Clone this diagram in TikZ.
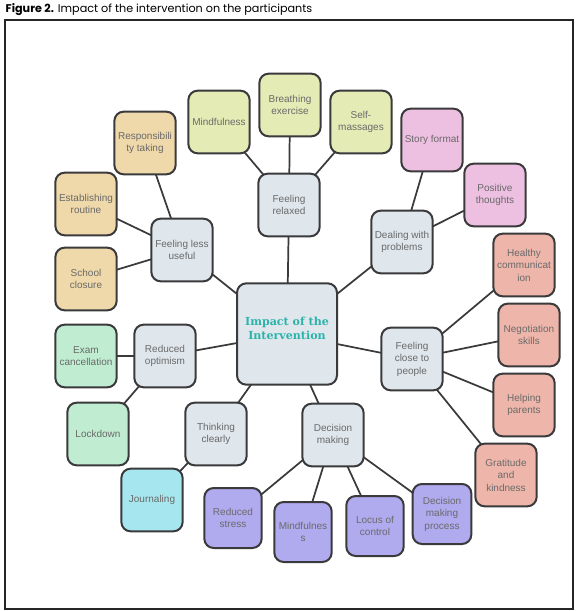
\documentclass[tikz,border=0pt]{standalone}
\usepackage{fontspec}
\setmainfont{Liberation Sans}
\newfontfamily\titlefont{Poppins}
\newfontfamily\hubfont{DejaVu Serif}
\definecolor{edgedark}{HTML}{3A3A3C}
\definecolor{labelgray}{HTML}{6A6A6A}
\definecolor{hubteal}{HTML}{2BB3AA}
\definecolor{hubfill}{HTML}{DFE6EC}
\definecolor{relaxfill}{HTML}{E4EBB5}
\definecolor{usefulfill}{HTML}{EFD8A9}
\definecolor{dealfill}{HTML}{EDBFE1}
\definecolor{closefill}{HTML}{EEB6AA}
\definecolor{optimfill}{HTML}{C0ECD1}
\definecolor{journalfill}{HTML}{A6E6EE}
\definecolor{decidefill}{HTML}{B0AAEE}
\pgfdeclarelayer{background}
\pgfsetlayers{background,main}

\begin{document}
\begin{tikzpicture}[
  x=0.75pt,y=-0.75pt,
  every node/.style={font=\fontsize{7.5}{9.4}\selectfont,text=labelgray},
  topic/.style={draw=edgedark,line width=1.5pt,rounded corners=7pt,
    minimum width=46pt,minimum height=47pt,inner sep=1pt,align=center},
  link/.style={draw=edgedark,line width=1.3pt}
]

% ---- canvas ----
\useasboundingbox (0,0) rectangle (578,611);

% ---- caption and frame ----
\node[anchor=west,font=\titlefont\fontsize{8.4}{10}\selectfont,text=black] (title) at (1,10)
  {\textbf{Figure 2.} Impact of the intervention on the participants};
\draw[black!85,line width=1pt] (5,20) rectangle (573,609);

% ---- hub ----
\node[topic,fill=hubfill,minimum width=75pt,minimum height=76pt] (hub) at (287,334) {};
\node[font=\hubfont\bfseries\fontsize{8.3}{10.5}\selectfont,text=hubteal,align=center]
  (hubtext) at (287,328) {Impact of the\\Intervention};

% ---- first ring ----
\node[topic,fill=hubfill] (relaxed) at (289,205) {Feeling\\relaxed};
\node[topic,fill=hubfill] (useless) at (182,250) {Feeling less\\useful};
\node[topic,fill=hubfill] (dealing) at (402,242) {Dealing with\\problems};
\node[topic,fill=hubfill] (close) at (412,359) {Feeling\\close to\\people};
\node[topic,fill=hubfill] (optimism) at (165,356) {Reduced\\optimism};
\node[topic,fill=hubfill] (thinking) at (216,434) {Thinking\\clearly};
\node[topic,fill=hubfill] (decision) at (333,435) {Decision\\making};

% ---- feeling relaxed ----
\node[topic,fill=relaxfill] (mindtop) at (219,122) {Mindfulness};
\node[topic,fill=relaxfill] (breath) at (290,105) {Breathing\\exercise};
\node[topic,fill=relaxfill] (massage) at (361,122) {Self-\\massages};

% ---- feeling less useful ----
\node[topic,fill=usefulfill] (respons) at (145,143) {Responsibili\\ty taking};
\node[topic,fill=usefulfill] (routine) at (86,204) {Establishing\\routine};
\node[topic,fill=usefulfill] (school) at (86,279) {School\\closure};

% ---- dealing with problems ----
\node[topic,fill=dealfill] (story) at (432,140) {Story format};
\node[topic,fill=dealfill] (positive) at (495,195) {Positive\\thoughts};

% ---- feeling close to people ----
\node[topic,fill=closefill] (healthy) at (524,265) {Healthy\\communicat\\ion};
\node[topic,fill=closefill] (negotiate) at (529,335) {Negotiation\\skills};
\node[topic,fill=closefill] (helping) at (524,405) {Helping\\parents};
\node[topic,fill=closefill] (gratitude) at (506,475) {Gratitude\\and\\kindness};

% ---- reduced optimism ----
\node[topic,fill=optimfill] (exam) at (86,356) {Exam\\cancellation};
\node[topic,fill=optimfill] (lockdown) at (98,434) {Lockdown};

% ---- thinking clearly ----
\node[topic,fill=journalfill] (journal) at (152,500) {Journaling};

% ---- decision making ----
\node[topic,fill=decidefill,minimum width=43pt,minimum height=45pt] (stress) at (233,518) {Reduced\\stress};
\node[topic,fill=decidefill,minimum width=43pt,minimum height=45pt] (mindbot) at (303,532) {Mindfulnes\\s};
\node[topic,fill=decidefill,minimum width=43pt,minimum height=45pt] (locus) at (375,526) {Locus of\\control};
\node[topic,fill=decidefill,minimum width=44pt,minimum height=45pt] (process) at (442,514) {Decision\\making\\process};

% ---- connectors ----
\begin{pgfonlayer}{background}
\foreach \a/\b in {hub/relaxed,hub/useless,hub/dealing,hub/close,hub/optimism,
    hub/thinking,hub/decision,
    relaxed/mindtop,relaxed/breath,relaxed/massage,
    useless/respons,useless/routine,useless/school,
    dealing/story,dealing/positive,
    close/healthy,close/negotiate,close/helping,close/gratitude,
    optimism/exam,optimism/lockdown,
    thinking/journal,
    decision/stress,decision/mindbot,decision/locus,decision/process}{
  \draw[link] (\a.center) -- (\b.center);
}
\end{pgfonlayer}

\end{tikzpicture}
\end{document}
